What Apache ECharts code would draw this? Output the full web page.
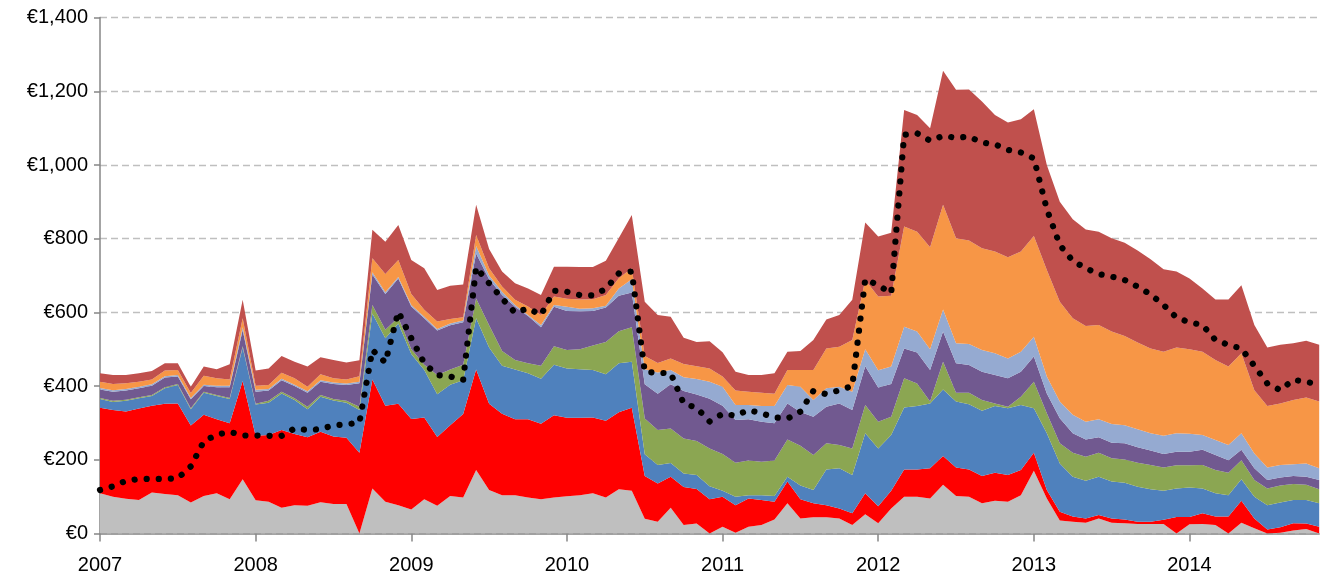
<!DOCTYPE html>
<html>
<head>
<meta charset="utf-8">
<script src="https://cdn.jsdelivr.net/npm/echarts@6/dist/echarts.min.js"></script>
<style>
html,body{margin:0;padding:0;background:#fff;}
#chart{width:1324px;height:577px;}
</style>
</head>
<body>
<div id="chart"></div>
<script>
// Tick labels (years) and monthly categories Jan 2007 .. Nov 2014
const years = ['2007','2008','2009','2010','2011','2012','2013','2014'];
const monthsInLastYear = 11;
const categories = [];
years.forEach(function (y, yi) {
  const n = (yi === years.length - 1) ? monthsInLastYear : 12;
  for (let m = 1; m <= n; m++) categories.push(y + '-' + (m < 10 ? '0' + m : m));
});

// Stacked series (bottom to top)
const grayVals = [109,100,94,91,111,107,104,84,102,109,93,147,90,86,70,77,75,85,80,80,0,122,86,77,65,93,75,102,98,172,118,104,104,98,93,98,101,104,109,98,120,116,40,32,70,23,27,0,18,2,18,23,38,82,41,44,44,41,23,52,28,68,100,100,95,132,102,100,82,89,86,104,170,95,35,32,29,41,29,28,26,26,26,0,25,26,23,0,29,14,0,2,8,12,0];
const redVals = [232,235,237,248,236,245,249,209,220,201,206,267,175,181,211,193,186,191,183,180,219,296,261,275,246,222,187,192,226,273,234,221,206,212,205,223,213,210,206,208,209,225,116,104,84,103,94,93,82,75,77,68,48,59,52,38,33,27,32,57,46,48,74,74,82,78,77,74,74,76,73,68,49,23,24,14,12,9,12,10,6,6,11,45,20,29,23,46,60,27,11,15,20,15,18];
const blueVals = [24,22,29,28,26,42,50,44,60,63,66,91,85,88,99,92,76,95,98,95,116,179,183,218,176,129,116,110,92,139,153,130,135,125,122,137,134,132,129,126,133,125,59,50,37,37,38,35,16,23,9,13,16,13,37,36,97,109,104,163,157,151,168,172,176,181,179,177,177,181,181,177,121,154,131,108,102,104,100,100,95,88,79,77,80,67,63,58,58,59,66,67,63,64,64];
const greenVals = [3,3,3,3,3,3,3,3,3,3,3,3,2,5,5,5,7,5,4,5,9,23,23,16,13,14,52,41,42,54,60,40,26,27,35,50,50,54,66,88,87,94,97,95,94,95,92,103,100,92,94,91,96,101,108,95,71,63,72,77,72,50,79,61,5,75,24,31,29,7,4,22,72,54,55,65,65,65,63,63,65,66,63,63,60,64,63,61,52,45,45,46,43,41,38];
const purpleVals = [23,25,25,24,25,26,20,24,15,21,29,44,33,28,31,33,38,36,41,43,64,83,97,106,116,126,121,120,115,122,125,152,144,128,105,107,106,103,94,93,96,94,93,98,120,129,126,135,131,116,112,108,101,98,92,104,99,113,104,105,93,89,81,84,86,82,80,75,77,77,77,68,68,54,68,53,47,42,42,44,42,39,37,37,37,41,41,34,28,32,23,22,22,22,25];
const lightBlueVals = [4,4,4,4,4,4,4,4,4,4,4,8,5,4,4,4,4,4,4,4,4,6,5,4,4,4,4,5,5,20,10,9,5,3,6,5,11,7,7,5,20,36,41,58,39,37,42,46,51,41,39,43,47,50,68,45,50,45,50,46,47,47,59,57,56,60,54,57,59,59,54,54,54,46,45,50,48,49,51,49,49,47,49,50,49,40,41,41,45,40,34,34,32,36,32];
const orangeVals = [17,17,16,14,13,15,14,13,24,20,17,24,11,11,16,17,12,16,11,11,15,38,49,46,30,19,20,12,9,30,20,14,14,23,27,23,22,25,25,29,28,30,36,26,31,36,35,36,28,39,36,36,33,41,46,82,108,109,140,188,200,192,272,271,277,284,285,281,276,276,275,272,273,289,271,262,260,256,251,242,235,230,228,233,229,226,217,213,217,172,167,167,174,179,181];
const darkRedVals = [23,24,22,23,23,20,18,17,25,25,41,50,41,45,46,45,55,46,50,46,43,77,88,95,92,113,86,90,89,82,52,41,45,49,54,81,87,88,87,93,109,144,147,130,113,71,66,74,66,51,45,48,56,49,51,81,79,86,109,156,163,171,316,317,323,364,403,410,398,371,365,359,344,285,271,269,262,253,253,253,250,242,224,206,192,172,164,182,185,177,159,159,154,154,154];
// Dotted line (not stacked)
const dottedVals = [118,128,143,148,148,148,150,182,250,268,276,266,266,265,265,285,281,283,294,296,301,498,464,602,530,462,430,426,417,722,679,638,599,611,593,659,656,647,646,664,706,711,439,436,435,353,341,304,325,320,335,326,315,312,331,387,378,389,400,690,674,652,1082,1086,1066,1079,1074,1077,1061,1056,1041,1034,1018,880,783,740,720,704,697,688,670,649,620,586,573,566,525,512,502,455,407,389,417,412,403];

const yTicks = [0,200,400,600,800,1000,1200,1400];

const layers = [
  {name:'Gray', data:grayVals, color:'#bfbfbf'},
  {name:'Red', data:redVals, color:'#ff0000'},
  {name:'Blue', data:blueVals, color:'#4f81bd'},
  {name:'Green', data:greenVals, color:'#8ba652'},
  {name:'Purple', data:purpleVals, color:'#715990'},
  {name:'LightBlue', data:lightBlueVals, color:'#95aad1'},
  {name:'Orange', data:orangeVals, color:'#f79646'},
  {name:'DarkRed', data:darkRedVals, color:'#c0504d'}
];

const FONT = 'Liberation Sans';
const chart = echarts.init(document.getElementById('chart'), null, {renderer:'canvas'});

const series = layers.map(function (l) {
  return {
    name: l.name, type: 'line', stack: 'total', data: l.data,
    symbol: 'none', smooth: false,
    lineStyle: {width: 0, color: l.color},
    areaStyle: {color: l.color, opacity: 1},
    itemStyle: {color: l.color},
    emphasis: {disabled: true}, animation: false
  };
});
series.push({
  name: 'Dotted', type: 'line', data: dottedVals, symbol: 'none', z: 10,
  lineStyle: {color: '#000', width: 6.2, type: [0.1, 12], cap: 'round', join: 'round'},
  emphasis: {disabled: true}, animation: false
});

const isYearStart = function (idx) { return idx % 12 === 0; };

chart.setOption({
  animation: false,
  backgroundColor: '#fff',
  grid: {left: 100, right: 4.8, top: 17.6, bottom: 43.5, containLabel: false},
  xAxis: {
    type: 'category', data: categories, boundaryGap: false,
    axisLine: {show: true, lineStyle: {color: '#868686', width: 1.5}},
    axisTick: {show: true, interval: isYearStart, length: 8, lineStyle: {color: '#868686', width: 1.5}},
    axisLabel: {interval: isYearStart, formatter: function (v) { return v.slice(0, 4); },
      color: '#000', fontSize: 20, fontFamily: FONT, margin: 22},
    splitLine: {show: false}
  },
  yAxis: {
    type: 'value', min: yTicks[0], max: yTicks[yTicks.length - 1], interval: 200,
    axisLine: {show: true, lineStyle: {color: '#868686', width: 1.5}},
    axisTick: {show: true, length: 6, lineStyle: {color: '#868686', width: 1.5}},
    axisLabel: {color: '#000', fontSize: 20, fontFamily: FONT, margin: 12,
      formatter: function (v) { return '€' + v.toLocaleString('en-US'); }},
    splitLine: {show: true, lineStyle: {color: '#bfbfbf', width: 1.3, type: [7, 4]}}
  },
  tooltip: {show: false},
  series: series
});
</script>
</body>
</html>
